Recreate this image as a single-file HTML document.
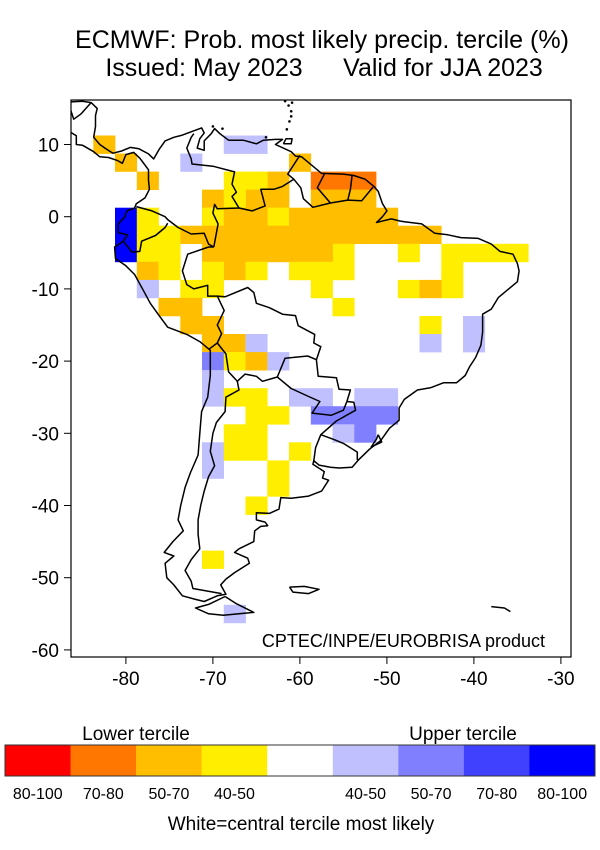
<!DOCTYPE html>
<html><head><meta charset="utf-8">
<style>
html,body{margin:0;padding:0;background:#fff;}
body{width:600px;height:850px;position:relative;overflow:hidden;font-family:"Liberation Sans",Arial,sans-serif;}
svg{position:absolute;left:0;top:0;}
</style></head>
<body>
<svg id="s" width="600" height="850" viewBox="0 0 600 850" xmlns="http://www.w3.org/2000/svg" font-family="Liberation Sans, Arial, sans-serif">
<defs><clipPath id="c"><rect x="71" y="100" width="500" height="557"/></clipPath></defs>
<text x="322" y="48" font-size="25" text-anchor="middle" textLength="494" lengthAdjust="spacingAndGlyphs">ECMWF: Prob. most likely precip. tercile (%)</text>
<text x="204" y="76" font-size="25" text-anchor="middle">Issued: May 2023</text>
<text x="443" y="76" font-size="25" text-anchor="middle">Valid for JJA 2023</text>
<g id="cells" clip-path="url(#c)"></g>
<g id="coast" clip-path="url(#c)" fill="none" stroke="#000" stroke-width="1.5" stroke-linejoin="round"></g>
<rect x="71" y="100" width="500" height="557" fill="none" stroke="#000" stroke-width="1.2"/>
<g id="ticks" stroke="#000" stroke-width="1"></g>
<g id="tl" font-size="19"></g>
<text x="545" y="647" font-size="18" text-anchor="end">CPTEC/INPE/EUROBRISA product</text>
<text x="136" y="740" font-size="19" text-anchor="middle">Lower tercile</text>
<text x="463" y="740" font-size="19" text-anchor="middle">Upper tercile</text>
<g id="bar"></g>
<text x="301" y="830" font-size="19" text-anchor="middle">White=central tercile most likely</text>
</svg>
<script>
var NS="http://www.w3.org/2000/svg";
function X(lon){return 125.9+(lon+80)*8.7;}
function Y(lat){return 144.5+(10-lat)*7.22;}
function el(tag,attrs,parent,txt){var e=document.createElementNS(NS,tag);for(var k in attrs)e.setAttribute(k,attrs[k]);if(txt!==undefined)e.textContent=txt;document.getElementById(parent).appendChild(e);return e;}
var C={Y:"#ffee00",O:"#ffbf00",R:"#ff7700",L:"#c0c0ff",M:"#8080ff",B:"#0000ff"};
var cells=[
[10,"O",[-82.5]],[10,"L",[-67.5,-65]],
[7.5,"O",[-80,-60]],[7.5,"L",[-72.5]],
[5,"O",[-77.5,-62.5]],[5,"Y",[-67.5,-65]],[5,"R",[-57.5,-55,-52.5]],
[2.5,"O",[-70,-65,-62.5,-57.5,-55,-52.5]],[2.5,"Y",[-67.5]],
[0,"B",[-80]],[0,"Y",[-77.5,-70,-62.5]],[0,"O",[-67.5,-65,-60,-57.5,-55,-52.5,-50]],
[-2.5,"B",[-80]],[-2.5,"Y",[-77.5,-75]],[-2.5,"O",[-72.5,-70,-67.5,-65,-62.5,-60,-57.5,-55,-52.5,-50,-47.5,-45]],
[-5,"B",[-80]],[-5,"Y",[-77.5,-75,-55,-47.5,-42.5,-40,-37.5,-35]],[-5,"O",[-70,-67.5,-65,-62.5,-60,-57.5]],
[-7.5,"O",[-77.5,-67.5]],[-7.5,"Y",[-75,-70,-65,-60,-57.5,-55,-42.5]],
[-10,"L",[-77.5]],[-10,"Y",[-72.5,-70,-57.5,-47.5,-42.5]],[-10,"O",[-45]],
[-12.5,"O",[-75,-72.5]],[-12.5,"Y",[-55]],
[-15,"O",[-72.5,-70]],[-15,"Y",[-45]],[-15,"L",[-40]],
[-17.5,"O",[-70,-67.5]],[-17.5,"L",[-65,-45,-40]],
[-20,"M",[-70]],[-20,"Y",[-67.5]],[-20,"O",[-65]],[-20,"L",[-62.5]],
[-22.5,"L",[-70]],
[-25,"L",[-70,-60,-57.5,-52.5,-50]],[-25,"Y",[-67.5,-65]],
[-27.5,"Y",[-65,-62.5]],[-27.5,"M",[-57.5,-55,-52.5,-50]],
[-30,"Y",[-67.5,-65]],[-30,"L",[-55]],[-30,"M",[-52.5]],
[-32.5,"L",[-70]],[-32.5,"Y",[-67.5,-65,-60]],
[-35,"L",[-70]],[-35,"Y",[-62.5]],
[-37.5,"Y",[-62.5]],[-40,"Y",[-65]],[-47.5,"Y",[-70]],[-55,"L",[-67.5]]
];
cells.forEach(function(r){r[2].forEach(function(lon){
 var x0=X(lon-1.25),x1=X(lon+1.25),y0=Y(r[0]+1.25),y1=Y(r[0]-1.25);
 el("rect",{x:x0.toFixed(1),y:y0.toFixed(1),width:(x1-x0+0.3).toFixed(1),height:(y1-y0+0.3).toFixed(1),fill:C[r[1]]},"cells");
});});
var lines=[
[[-86.5,15.9],[-85,16],[-84,15.8],[-83.3,15],[-83.5,14],[-83.5,12.5],[-83.7,11],[-83,10],[-82.3,9.4],[-81.5,8.8],[-80.5,9.1],[-79.5,9.6],[-78.5,9.4],[-77.4,8.7],[-76.8,8.0],[-76.2,9.3],[-75.5,10.5],[-74.5,11],[-73.5,11.3],[-72.2,11.9],[-71.3,12.3],[-71.0,11.6],[-71.5,10.8],[-71.8,9.5],[-71.0,9.2],[-71.0,10.5],[-70.2,11.5],[-69.8,12.2],[-69.2,11.5],[-68.2,10.6],[-66.5,10.6],[-65,10.1],[-64.2,10.6],[-62.8,10.7],[-62,10.7],[-62.8,10.0],[-61,9],[-60.5,8.4],[-59.8,8.3],[-58.5,7],[-57.5,6],[-55,5.9],[-53.8,5.7],[-52.5,5.2],[-51.5,4.2],[-51,3.5],[-50.5,1.8],[-50,0.8],[-50.5,0],[-51.2,-0.8],[-49.5,-0.3],[-48.5,-0.6],[-48,-0.7],[-46,-1],[-44.5,-2.3],[-43,-2.5],[-41.5,-2.9],[-39.5,-3],[-38,-3.8],[-37,-4.8],[-35.5,-5.2],[-35,-6.5],[-34.8,-7.5],[-35,-9],[-36,-10],[-37.2,-11.2],[-38,-12.8],[-39,-13.5],[-39,-16],[-39.2,-17.8],[-39.8,-19.5],[-40.5,-20.8],[-41,-22],[-42,-23],[-43.5,-23],[-45,-23.7],[-46.5,-24],[-48,-25.3],[-48.6,-26.5],[-48.6,-28.2],[-49.7,-29.3],[-50.7,-31],[-52,-32.2],[-53.2,-33.6],[-54,-34.7],[-55.5,-34.8],[-56.5,-34.7],[-57.8,-34.4],[-58.4,-33.8],[-58.5,-34.3],[-57.2,-35.3],[-57.4,-36.2],[-56.7,-36.5],[-57.5,-38],[-59,-38.7],[-61,-39],[-62.2,-38.9],[-62.4,-40.5],[-63.5,-41.1],[-65,-41],[-65,-42],[-64,-42.3],[-63.7,-42.8],[-64.5,-42.9],[-65.2,-43.5],[-65.3,-45],[-67,-46],[-67.5,-46.5],[-66,-47.3],[-65.8,-48],[-67.5,-49.3],[-68.5,-50.2],[-69.1,-51],[-68.5,-52.3],[-69.5,-52.5],[-71,-53.3],[-72,-53],[-73.5,-52.5],[-74.5,-51],[-75.3,-50],[-75.5,-48],[-74.5,-47],[-75.6,-46.5],[-74.6,-45],[-73.4,-43.5],[-74,-42],[-73.7,-40],[-73.2,-37.5],[-72.6,-35.5],[-71.7,-33],[-71.5,-30],[-71.3,-27],[-70.6,-25],[-70.3,-22],[-70.3,-18.5],[-71.5,-17.3],[-73,-16.3],[-75.2,-15.3],[-76.3,-13.5],[-77.2,-12],[-78,-10.2],[-79,-8],[-80,-6.8],[-81.2,-5.8],[-81.3,-4.2],[-80.3,-3.4],[-79.8,-2.5],[-80.9,-2.2],[-80.9,-1],[-80.1,0],[-79.9,0.8],[-79,1.2],[-78.8,1.8],[-77.8,2.6],[-77.3,3.8],[-77.4,5],[-77.4,6.5],[-77.9,7.3],[-78.4,8.1],[-79.1,8.9],[-80,8.6],[-80.4,7.4],[-81,7.8],[-82,8.2],[-83,8.3],[-83.7,9],[-85,9.9],[-85.7,10],[-85.7,11.2],[-86.5,11.8]],
[[-68.6,-52.6],[-67.3,-53.6],[-65.3,-54.8],[-67,-55],[-68.8,-55.2],[-70.5,-55],[-72,-54.2],[-70.5,-53.7],[-68.6,-52.6]],
[[-61.2,-51.3],[-59.5,-51.2],[-57.8,-51.6],[-59,-52.2],[-60.8,-52],[-61.2,-51.3]],
[[-38,-54],[-36.5,-54.2],[-35.8,-54.7]],
[[-61.9,10.1],[-61,10.1],[-60.9,10.8],[-61.6,10.8],[-61.9,10.1]],
[[-69.5,-17.5],[-68.5,-19],[-68.2,-21.5],[-67.2,-22.8],[-67,-24],[-68.5,-25],[-68.6,-27],[-69.6,-28.5],[-70,-30],[-70.3,-32.5],[-69.8,-34.5],[-70.5,-36],[-71,-38],[-71.4,-40],[-71.7,-42],[-71.7,-44],[-71.5,-46],[-72.5,-47.5],[-73.2,-49],[-72.5,-50.5],[-72.3,-51.5],[-69,-52.2]],
[[-70.4,-18.3],[-69.5,-17.5],[-69,-16.2],[-69.5,-15],[-68.7,-13],[-69.5,-11],[-70.6,-11],[-70.6,-9.5],[-72.2,-10],[-73,-9.4],[-73.5,-7.5],[-72.9,-5.2],[-70.5,-4.2],[-69.9,-4.2]],
[[-69.9,-4.2],[-70.5,-3.8],[-71,-2.3],[-72.5,-2.4],[-74,-1.5],[-75.2,-0.4],[-75.5,0],[-77,0.8],[-78.8,1.4]],
[[-75.2,-0.9],[-75.5,-1.5],[-76.6,-2.6],[-78.2,-3.4],[-78.4,-4.8],[-79.3,-4.9],[-80.3,-3.4]],
[[-72.2,11.5],[-72.5,11],[-73,9.5],[-72.5,8],[-72.4,7.3],[-70,7],[-67.5,6.2],[-67.8,4.5],[-67.3,3.4],[-67.8,2.8],[-67,1.2],[-69.5,1.1],[-69.8,1.7],[-70,0.5],[-69.4,-1],[-69.9,-4.2]],
[[-67,1.2],[-65.5,0.8],[-64,1.5],[-64.5,3.8],[-63,3.8],[-62,4.2],[-60.7,5.2],[-61.4,5.9],[-60,8.5]],
[[-60.7,5.2],[-59.9,4.0],[-59.6,2.5],[-58.5,1.3],[-56.5,1.9],[-54.5,2.3],[-52.9,2.2],[-51.6,4.1]],
[[-57.2,5.9],[-58,4],[-56.5,1.9]],[[-54,5.7],[-54.2,3.8],[-54.5,2.3]],
[[-69.5,-11],[-68.6,-11.1],[-66,-9.8],[-65.3,-10.5],[-65,-12],[-63.5,-12.6],[-62,-13.5],[-60.5,-13.7],[-60.2,-15.1],[-58.3,-16.3],[-58.4,-17.5],[-57.6,-18],[-58.1,-19.8],[-59.1,-19.3],[-61.7,-19.6],[-62.6,-22.2],[-64.3,-22.8],[-65,-22.1],[-66.3,-21.8],[-67.2,-22.8]],
[[-62.6,-22.2],[-61,-23.8],[-59,-24.9],[-57.7,-25.6],[-58.6,-27.2],[-56.4,-27.5],[-55,-26.8],[-54.6,-25.6],[-54.2,-24],[-55.5,-23.9],[-55.8,-22.3],[-57.9,-22.1],[-58.1,-19.8]],
[[-54.6,-25.6],[-53.8,-25.7],[-53.6,-26.8],[-55.8,-28.3],[-57.6,-30.2],[-56,-30.9],[-55,-31.4],[-53.4,-32.6],[-53.4,-33.7]],
[[-57.6,-30.2],[-58.2,-32],[-58.4,-33.8]],
[[-51,-30.2],[-50.6,-31.2],[-51.8,-31.9],[-51.2,-30.8],[-51,-30.2]],
[[-86.5,15.3],[-86,13.5],[-85.2,14.2],[-84,15.8]]
];
lines.forEach(function(l){
 var d=l.map(function(p,i){return (i?"L":"M")+X(p[0]).toFixed(1)+" "+Y(p[1]).toFixed(1);}).join("");
 el("path",{d:d},"coast");
});
[[-61.5,12.1],[-61.2,13.2],[-61,13.9],[-61,14.6],[-61.3,15.4],[-61.7,16.0],[-60.9,15.8],[-68.9,12.2],[-70,12.5],[-63.9,11],[-61.7,17]].forEach(function(p){
 el("circle",{cx:X(p[0]),cy:Y(p[1]),r:1.3,fill:"#000",stroke:"none"},"coast");
});
for(var lat=10;lat>=-60;lat-=10){var y=Y(lat);el("line",{x1:64,x2:71,y1:y,y2:y},"ticks");
 el("text",{x:59,y:y+7,"text-anchor":"end"},"tl",lat);}
for(var lon=-80;lon<=-30;lon+=10){var x=X(lon);el("line",{x1:x,x2:x,y1:657,y2:664},"ticks");
 el("text",{x:x,y:685,"text-anchor":"middle"},"tl",lon);}
var bc=["#ff0000","#ff7700","#ffbf00","#ffee00","#ffffff","#c0c0ff","#8080ff","#4040ff","#0000ff"];
var bl=["80-100","70-80","50-70","40-50","","40-50","50-70","70-80","80-100"];
var w=590/9;
bc.forEach(function(c,i){el("rect",{x:(5+i*w).toFixed(2),y:745,width:(w+0.3).toFixed(2),height:31,fill:c},"bar");
 if(bl[i])el("text",{x:(5+i*w+w/2).toFixed(1),y:799,"font-size":"16","text-anchor":"middle"},"bar",bl[i]);});
el("rect",{x:5,y:745,width:590,height:31,fill:"none",stroke:"#333","stroke-width":1},"bar");
</script>
</body></html>
